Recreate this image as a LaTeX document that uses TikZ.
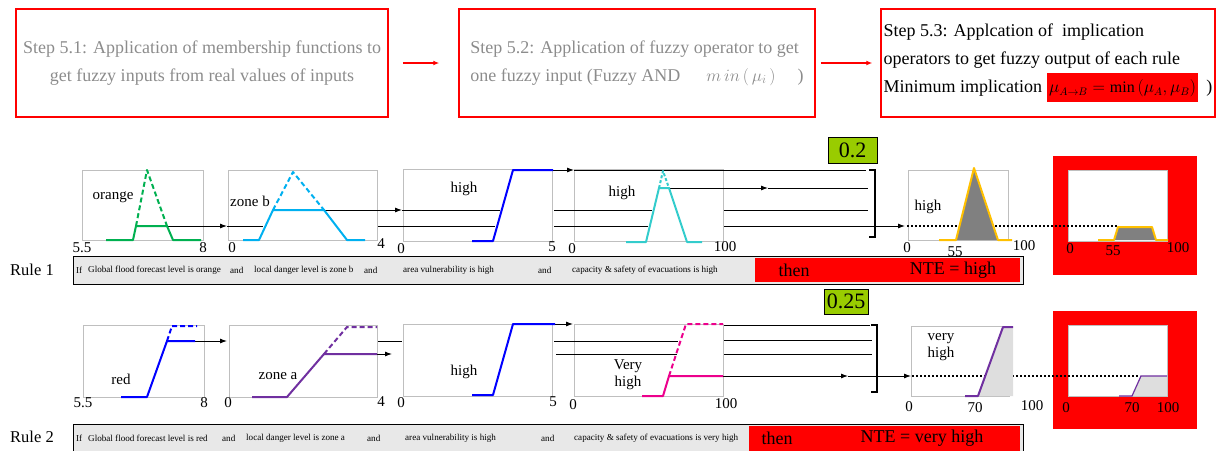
\documentclass[tikz,border=0pt]{standalone}
\usepackage{fontspec}
\setmainfont{Liberation Serif}
\usetikzlibrary{arrows.meta}
\definecolor{mfgreen}{HTML}{00B050}
\definecolor{mfcyan}{HTML}{00B0F0}
\definecolor{mfteal}{HTML}{33CCCC}
\definecolor{mfpurple}{HTML}{7030A0}
\definecolor{mforange}{HTML}{FFC000}
\definecolor{cutgreen}{HTML}{99CC00}
\definecolor{bargray}{HTML}{E8E8E8}
\begin{document}
\begin{tikzpicture}[x=1pt, y=-1pt,
    every node/.style={font=\fontsize{15}{17}\selectfont, inner sep=0pt},
    stepbox/.style={draw=red, line width=1.5pt, font=\fontsize{18}{28}\selectfont, minimum height=108pt},
    frame/.style={draw=black!25, line width=0.8pt},
    mf/.style={line width=2pt, line join=round},
    mfcut/.style={mf, dash pattern=on 5pt off 3pt},
    conn/.style={line width=0.9pt},
    arr/.style={conn, -{Latex[length=7pt,width=5pt]}},
    redarr/.style={red, line width=1.2pt, -{Latex[length=6pt,width=5pt]}},
    brace/.style={line width=1.8pt},
    dotline/.style={line width=1.2pt, dash pattern=on 2pt off 2pt},
    cut/.style={draw, fill=cutgreen, line width=0.8pt, font=\fontsize{22}{22}\selectfont},
    bar/.style={draw, fill=bargray, line width=1pt},
    bartext/.style={anchor=west, font=\fontsize{9.1}{10}\selectfont},
    big/.style={font=\fontsize{18}{18}\selectfont},
    rulename/.style={font=\fontsize{16.5}{17}\selectfont}]
    \useasboundingbox (0,0) rectangle (1216,450);
    \clip (0,0) rectangle (1216,450);

    \node[stepbox, minimum width=372pt, text=black!45, align=center] (s1) at (202,63)
        {Step 5.1: Application of membership functions to\\get fuzzy inputs from real values of inputs};
    \node[stepbox, minimum width=356pt, text=black!45, align=left] (s2) at (637,63)
        {Step 5.2: Application of fuzzy operator to get\\one fuzzy input (Fuzzy AND\hspace{26pt}$m\,in\,(\,\mu_{i}\,)$\hspace{22pt})};
    \node[stepbox, minimum width=334pt, align=left] (s3) at (1048,63)
        {Step 5.3: Applcation of~ implication\\operators to get fuzzy output of each rule\\Minimum implication \setlength{\fboxsep}{2.5pt}\colorbox{red}{\rule[-7pt]{0pt}{24pt}\fontsize{16}{16}\selectfont$\mu_{A\rightarrow B}=\min\left(\mu_{A},\mu_{B}\right)$}\hspace{8pt})};
    \draw[redarr] ([xshift=14pt]s1.east) -- ([xshift=-19pt]s2.west);
    \draw[redarr] ([xshift=5pt]s2.east) -- ([xshift=-8pt]s3.west);

    \draw[frame] (82,170) rectangle (203,240);
    \draw[frame] (228,170) rectangle (377,240);
    \draw[frame] (403,169) rectangle (552,241);
    \draw[frame] (574,169) rectangle (723,241);
    \draw[frame] (908,170) rectangle (1008,240);
    \fill[red] (1053,156) rectangle (1197,275);
    \filldraw[fill=white, draw=black!25, line width=0.8pt] (1068,170) rectangle (1167,241);

    \draw[arr] (167,226) -- (227,226);
    \draw[conn] (227,226) -- (263,226);
    \draw[conn] (378,226) -- (495,226);
    \draw[conn] (554,226) -- (648,226);
    \draw[arr] (724,226) -- (905,226);
    \draw[arr] (324,210) -- (402,210);
    \draw[conn] (402,210) -- (500,210);
    \draw[conn] (554,210) -- (652,210);
    \draw[conn] (724,210) -- (868,210);
    \draw[arr] (553,170) -- (574,170);
    \draw[conn] (574,170) -- (866,170);
    \draw[arr] (669,188) -- (768,188);
    \draw[conn] (768,188) -- (868,188);
    \draw[brace] (869,170) -- (875,170) -- (875,237) -- (869,237);
    \draw[dotline] (907,226) -- (1117,226);

    \draw[mf, mfgreen] (106,240) -- (133,240) -- (136,226) -- (167,226) -- (173,240) -- (201,240);
    \draw[mfcut, mfgreen] (136,226) -- (147,170) -- (167,226);
    \draw[mf, mfcyan] (243,240) -- (259,240) -- (273,210) -- (324,210) -- (347,240) -- (365,240);
    \draw[mfcut, mfcyan] (273,210) -- (293,172) -- (324,210);
    \draw[mf, blue] (472,241) -- (493,241) -- (513,170) -- (553,170);
    \draw[mf, mfteal] (626,242) -- (646,242) -- (659,188) -- (669,188) -- (687,242) -- (702,242);
    \draw[mf, mfteal, dash pattern=on 3pt off 2pt] (659,188) -- (663,171) -- (669,188);
    \fill[gray] (956,240) -- (974,168) -- (998,240) -- cycle;
    \draw[mf, mforange] (939,240) -- (956,240) -- (974,168) -- (998,240) -- (1012,240);
    \fill[gray] (1114,240) -- (1118,227) -- (1152,227) -- (1156,240) -- cycle;
    \draw[mf, mforange] (1098,240) -- (1114,240) -- (1118,227) -- (1152,227) -- (1156,240) -- (1168,240);

    \node (t1a) at (113,197) {orange};
    \node (t1b) at (250,201) {zone b};
    \node (t1c) at (464,189) {high};
    \node (t1d) at (622,193) {high};
    \node (t1e) at (928,207) {high};
    \node (a1a0) at (82,248) {5.5};
    \node (a1a1) at (203,248) {8};
    \node (a1b0) at (232,248) {0};
    \node (a1b1) at (381,244) {4};
    \node (a1c0) at (401,249) {0};
    \node (a1c1) at (552,247) {5};
    \node (a1d0) at (572,249) {0};
    \node (a1d1) at (725,247) {100};
    \node (a1e0) at (907,248) {0};
    \node (a1e1) at (955,252) {55};
    \node (a1e2) at (1024,246) {100};
    \node (a1f0) at (1070,249) {0};
    \node (a1f1) at (1113,251) {55};
    \node (a1f2) at (1178,248) {100};
    \node[cut, minimum width=49pt, minimum height=26pt] (cut1) at (852.5,150) {0.2};

    \node[rulename] (rule1) at (32,270) {Rule 1};
    \draw[bar] (73,256) rectangle (1023,284);
    \fill[red] (755,258) rectangle (1020,282);
    \node[bartext] (r1if) at (76,270) {If};
    \node[bartext] (r1p1) at (88,270) {Global flood forecast level is orange};
    \node[bartext] (r1and1) at (230,270) {and};
    \node[bartext] (r1p2) at (254,270) {local danger level is zone b};
    \node[bartext] (r1and2) at (364,270) {and};
    \node[bartext] (r1p3) at (403,270) {area vulnerability is high};
    \node[bartext] (r1and3) at (538,270) {and};
    \node[bartext] (r1p4) at (572,270) {capacity \& safety of evacuations is high};
    \node[big] (r1then) at (794,270) {then};
    \node[big] (r1nte) at (953,270) {NTE = high};

    \draw[frame] (83,325) rectangle (204,397);
    \draw[frame] (229,325) rectangle (377,397);
    \draw[frame] (403,324) rectangle (552,396);
    \draw[frame] (574,324) rectangle (723,396);
    \draw[frame] (911,326) rectangle (1009,396);
    \fill[red] (1053,311) rectangle (1197,429);
    \filldraw[fill=white, draw=black!25, line width=0.8pt] (1068,325) rectangle (1167,396);

    \draw[arr] (195,341) -- (227,341);
    \draw[conn] (378,341) -- (402,341);
    \draw[conn] (554,341) -- (678,341);
    \draw[conn] (724,340) -- (872,340);
    \draw[arr] (377,354) -- (392,354);
    \draw[conn] (556,354) -- (677,354);
    \draw[conn] (724,354) -- (872,354);
    \draw[arr] (555,324) -- (573,324);
    \draw[conn] (724,325) -- (870,325);
    \draw[arr] (723,376) -- (848,376);
    \draw[arr] (848,376) -- (911,376);
    \draw[brace] (871,325) -- (877,325) -- (877,392) -- (871,392);
    \draw[dotline] (912,376) -- (1140,376);

    \draw[mf, blue] (121,397) -- (147,397) -- (167,341) -- (195,341);
    \draw[mfcut, blue] (167,341) -- (172,326) -- (197,326);
    \draw[mf, mfpurple] (252,397) -- (287,397) -- (324,354) -- (377,354);
    \draw[mfcut, mfpurple] (324,354) -- (347,327) -- (377,327);
    \draw[mf, blue] (472,395) -- (493,395) -- (513,324) -- (555,324);
    \draw[mf, magenta] (642,396) -- (663,396) -- (669,376) -- (723,376);
    \draw[mfcut, magenta] (669,376) -- (686,324) -- (723,324);
    \fill[black!13] (978,396) -- (1003,327) -- (1013,327) -- (1013,396) -- cycle;
    \draw[mf, mfpurple] (965,396) -- (978,396) -- (1003,327) -- (1013,327);
    \fill[black!13] (1132,396) -- (1141,376) -- (1167,376) -- (1167,396) -- cycle;
    \draw[mfpurple, line width=1.2pt] (1119,396) -- (1132,396) -- (1141,376) -- (1167,376);

    \node (t2a) at (121,379) {red};
    \node (t2b) at (278,376) {zone a};
    \node (t2c) at (464,372) {high};
    \node[align=center] (t2d) at (628,375) {Very\\high};
    \node[align=left] (t2e) at (941,347) {very\\high};
    \node (a2a0) at (83,403) {5.5};
    \node (a2a1) at (204,403) {8};
    \node (a2b0) at (228,403) {0};
    \node (a2b1) at (381,402) {4};
    \node (a2c0) at (401,403) {0};
    \node (a2c1) at (553,402) {5};
    \node (a2d0) at (573,405) {0};
    \node (a2d1) at (726,404) {100};
    \node (a2e0) at (909,407) {0};
    \node (a2e1) at (975,408) {70};
    \node (a2e2) at (1032,406) {100};
    \node (a2f0) at (1066,408) {0};
    \node (a2f1) at (1132,408) {70};
    \node (a2f2) at (1168,408) {100};
    \node[cut, minimum width=44pt, minimum height=25pt] (cut2) at (846,301.5) {0.25};

    \node[rulename] (rule2) at (32,437) {Rule 2};
    \draw[bar] (73,424) rectangle (1023,454);
    \fill[red] (749,426) rectangle (1020,452);
    \node[bartext] (r2if) at (76,438) {If};
    \node[bartext] (r2p1) at (88,438) {Global flood forecast level is red};
    \node[bartext] (r2and1) at (222,438) {and};
    \node[bartext] (r2p2) at (246,438) {local danger level is zone a};
    \node[bartext] (r2and2) at (367,438) {and};
    \node[bartext] (r2p3) at (405,438) {area vulnerability is high};
    \node[bartext] (r2and3) at (541,438) {and};
    \node[bartext] (r2p4) at (574,438) {capacity \& safety of evacuations is very high};
    \node[big] (r2then) at (777,438) {then};
    \node[big] (r2nte) at (922,438) {NTE = very high};
\end{tikzpicture}
\end{document}
